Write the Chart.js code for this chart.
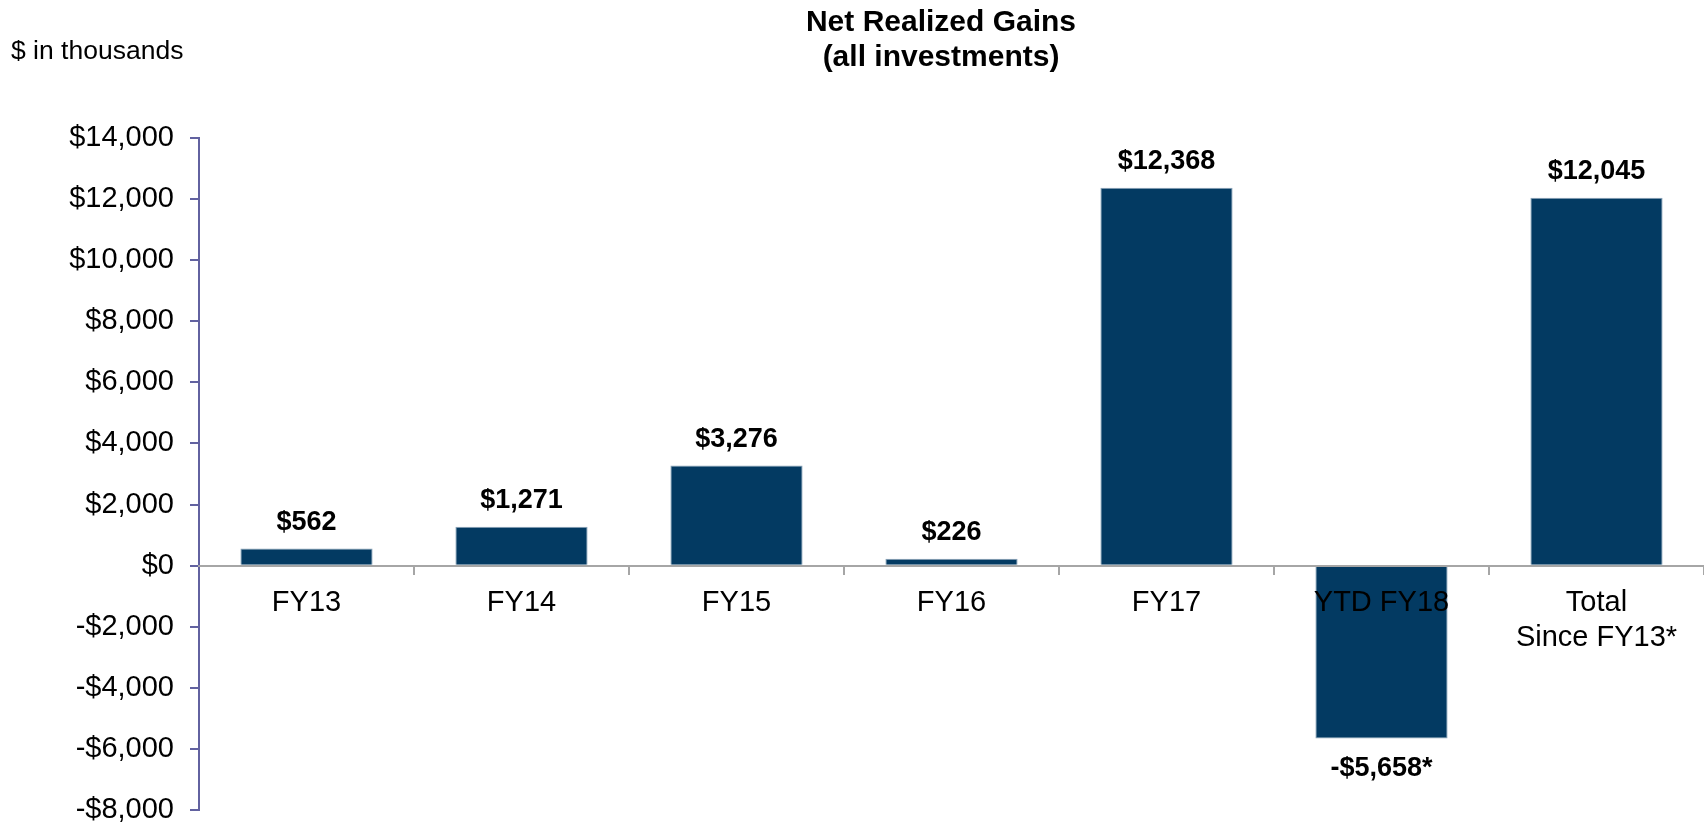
<!DOCTYPE html>
<html>
<head>
<meta charset="utf-8">
<script src="https://cdn.jsdelivr.net/npm/chart.js@4.4.1/dist/chart.umd.min.js"></script>
<style>
    html, body { margin: 0; padding: 0; background: #ffffff; }
    #wrap { width: 1704px; height: 824px; position: relative; }
</style>
</head>
<body>
<div id="wrap"><canvas id="gainsChart"></canvas></div>
<script>
const categorias = ["FY13", "FY14", "FY15", "FY16", "FY17", "YTD FY18", ["Total", "Since FY13*"]];
const ganancias = [562, 1271, 3276, 226, 12368, -5658, 12045];
const etiquetas = ["$562", "$1,271", "$3,276", "$226", "$12,368", "-$5,658*", "$12,045"];
const tituloLineas = ["Net Realized Gains", "(all investments)"];
const unidades = "$ in thousands";

function formatoDolar(v) {
    const s = "$" + Math.abs(v).toLocaleString("en-US");
    return v < 0 ? "-" + s : s;
}

document.addEventListener("DOMContentLoaded", () => {

    const textos = {
        id: "textos",
        afterDraw(chart) {
            const ctx = chart.ctx;
            ctx.save();
            ctx.fillStyle = "#000000";
            ctx.textBaseline = "middle";

            ctx.font = "bold 30px 'Liberation Sans', Arial, sans-serif";
            ctx.textAlign = "center";
            ctx.fillText(tituloLineas[0], 941, 23);
            ctx.fillText(tituloLineas[1], 941, 58);

            ctx.font = "26.5px 'Liberation Sans', Arial, sans-serif";
            ctx.textAlign = "left";
            ctx.fillText(unidades, 11, 52);

            // valores sobre / bajo cada barra
            ctx.font = "bold 27px 'Liberation Sans', Arial, sans-serif";
            ctx.textAlign = "center";
            const meta = chart.getDatasetMeta(0);
            meta.data.forEach((bar, i) => {
                const v = ganancias[i];
                const y = v >= 0 ? bar.y - 26 : bar.y + 30;
                ctx.fillText(etiquetas[i], bar.x, y);
            });
            ctx.restore();
        }
    };

    const canvas = document.getElementById("gainsChart");
    new Chart(canvas, {
        type: "bar",
        data: {
            labels: categorias,
            datasets: [{
                data: ganancias,
                backgroundColor: "#033a62",
                borderColor: "#8aa3b8",
                borderWidth: 1,
                categoryPercentage: 1,
                barPercentage: 0.615
            }]
        },
        options: {
            responsive: true,
            maintainAspectRatio: false,
            animation: false,
            layout: {
                padding: { top: 138, bottom: 14, left: 0, right: 0 }
            },
            plugins: {
                legend: { display: false },
                title: { display: false },
                tooltip: { enabled: false }
            },
            scales: {
                x: {
                    position: { y: 0 },
                    offset: true,
                    grid: {
                        offset: true,
                        drawOnChartArea: false,
                        color: "#a6a6a6",
                        lineWidth: 2,
                        tickLength: 8
                    },
                    border: { color: "#a6a6a6", width: 2, z: 1 },
                    ticks: {
                        z: 1,
                        color: "#000000",
                        padding: 12,
                        maxRotation: 0,
                        autoSkip: false,
                        font: { family: "'Liberation Sans', Arial, sans-serif", size: 29, lineHeight: 1.2 }
                    }
                },
                y: {
                    min: -8000,
                    max: 14000,
                    afterFit(scale) {
                        scale.width = 199;
                        scale.paddingTop = 0;
                        scale.paddingBottom = 0;
                    },
                    grid: {
                        drawOnChartArea: false,
                        color: "#6262a0",
                        lineWidth: 2,
                        tickLength: 9
                    },
                    border: { color: "#6262a0", width: 2 },
                    ticks: {
                        stepSize: 2000,
                        color: "#000000",
                        padding: 16,
                        font: { family: "'Liberation Sans', Arial, sans-serif", size: 29 },
                        callback: (v) => formatoDolar(v)
                    }
                }
            }
        },
        plugins: [textos]
    });
});
</script>
</body>
</html>
